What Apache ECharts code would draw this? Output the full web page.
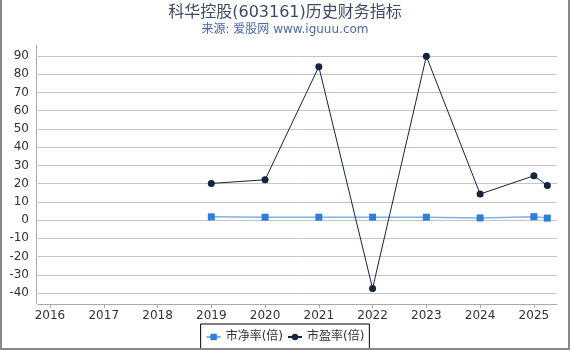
<!DOCTYPE html>
<html>
<head>
<meta charset="utf-8">
<script src="https://cdn.jsdelivr.net/npm/echarts@6/dist/echarts.min.js"></script>
<style>
html,body{margin:0;padding:0;background:#fff;}
#wrap{position:relative;width:570px;height:350px;}
#chart{position:absolute;left:0;top:0;width:570px;height:350px;}
#frame{position:absolute;left:0;top:0;width:570px;height:350px;box-sizing:border-box;border-left:2px solid #888;border-right:2px solid #888;border-bottom:2px solid #888;pointer-events:none;}
</style>
</head>
<body>
<div id="wrap"><div id="chart"></div><div id="frame"></div></div>
<script>
// Data
var years = [2019, 2020, 2021, 2022, 2023, 2024, 2025, 2025.25];
var pbValues = [1.8, 1.6, 1.6, 1.6, 1.6, 1.2, 1.9, 1.1];
var peValues = [20.1, 22.1, 84.1, -37.5, 89.8, 14.3, 24.3, 19.0];
var yTickMin = -40, yTickMax = 90, yTickStep = 10;
var seriesNames = ['市净率(倍)', '市盈率(倍)'];

var FONT = 'DejaVu Sans, Noto Sans CJK SC, sans-serif';
var yMin = -46, yMax = 96;
var gTop = 45, gBottom = 46, gLeft = 38, gRight = 13;
var plotH = 350 - gTop - gBottom;
var ppu = plotH / (yMax - yMin);
var lblTop = gTop + (yMax - yTickMax) * ppu;
var lblBottom = gBottom + (yTickMin - yMin) * ppu;

function pairs(xs, ys){ return xs.map(function(x,i){ return [x, ys[i]]; }); }

var chart = echarts.init(document.getElementById('chart'), null, {renderer:'canvas'});
chart.setOption({
  backgroundColor: '#fff',
  animation: false,
  textStyle: {fontFamily: FONT},
  title: {
    text: '科华控股(603161)历史财务指标',
    subtext: '来源: 爱股网 www.iguuu.com',
    left: 'center', top: 0, itemGap: 3,
    textStyle: {fontFamily: FONT, fontSize: 16, fontWeight: 'normal', color: '#3d4a66'},
    subtextStyle: {fontFamily: FONT, fontSize: 12, color: '#4a6aa5'}
  },
  legend: {
    data: seriesNames,
    bottom: 0, left: 'center',
    borderColor: '#000', borderWidth: 1, borderRadius: 0,
    padding: [7, 5], itemGap: 4, itemWidth: 14, itemHeight: 8,
    textStyle: {fontFamily: FONT, fontSize: 12, color: '#333'}
  },
  grid: [
    {left: gLeft, right: gRight, top: gTop, bottom: gBottom},
    {left: gLeft, right: gRight, top: lblTop, bottom: lblBottom}
  ],
  xAxis: [
    {
      type: 'value', gridIndex: 0, min: 2015.777, max: 2025.43, splitNumber: 10,
      axisLine: {onZero: false, lineStyle: {color: '#aaa'}},
      axisTick: {show: true, length: 4, lineStyle: {color: '#aaa'}},
      splitLine: {show: false},
      axisLabel: {
        showMinLabel: false, showMaxLabel: false, margin: 6,
        fontFamily: FONT, fontSize: 12, color: '#333',
        formatter: function(v){ return Math.abs(v - Math.round(v)) < 1e-6 ? String(Math.round(v)) : ''; }
      }
    },
    {type: 'value', gridIndex: 1, min: 0, max: 1, show: false}
  ],
  yAxis: [
    {
      type: 'value', gridIndex: 0, min: yMin, max: yMax, offset: 2,
      axisLine: {show: true, lineStyle: {color: '#aaa'}},
      axisTick: {show: false}, axisLabel: {show: false}, splitLine: {show: false}
    },
    {
      type: 'value', gridIndex: 1, min: yTickMin, max: yTickMax, interval: yTickStep,
      axisLine: {show: false}, axisTick: {show: false},
      axisLabel: {margin: 9, fontFamily: FONT, fontSize: 12, color: '#333'},
      splitLine: {show: true, lineStyle: {color: '#c4c4c4', width: 1}}
    }
  ],
  series: [
    {
      name: seriesNames[0], type: 'line', xAxisIndex: 0, yAxisIndex: 0,
      data: pairs(years, pbValues),
      symbol: 'rect', symbolSize: 7,
      itemStyle: {color: '#2f7ed8'},
      lineStyle: {color: '#7fb0e8', width: 1.5},
      z: 3
    },
    {
      name: seriesNames[1], type: 'line', xAxisIndex: 0, yAxisIndex: 0,
      data: pairs(years, peValues),
      symbol: 'circle', symbolSize: 7,
      itemStyle: {color: '#14243f'},
      lineStyle: {color: '#14243f', width: 1},
      z: 4
    }
  ]
});
</script>
</body>
</html>
